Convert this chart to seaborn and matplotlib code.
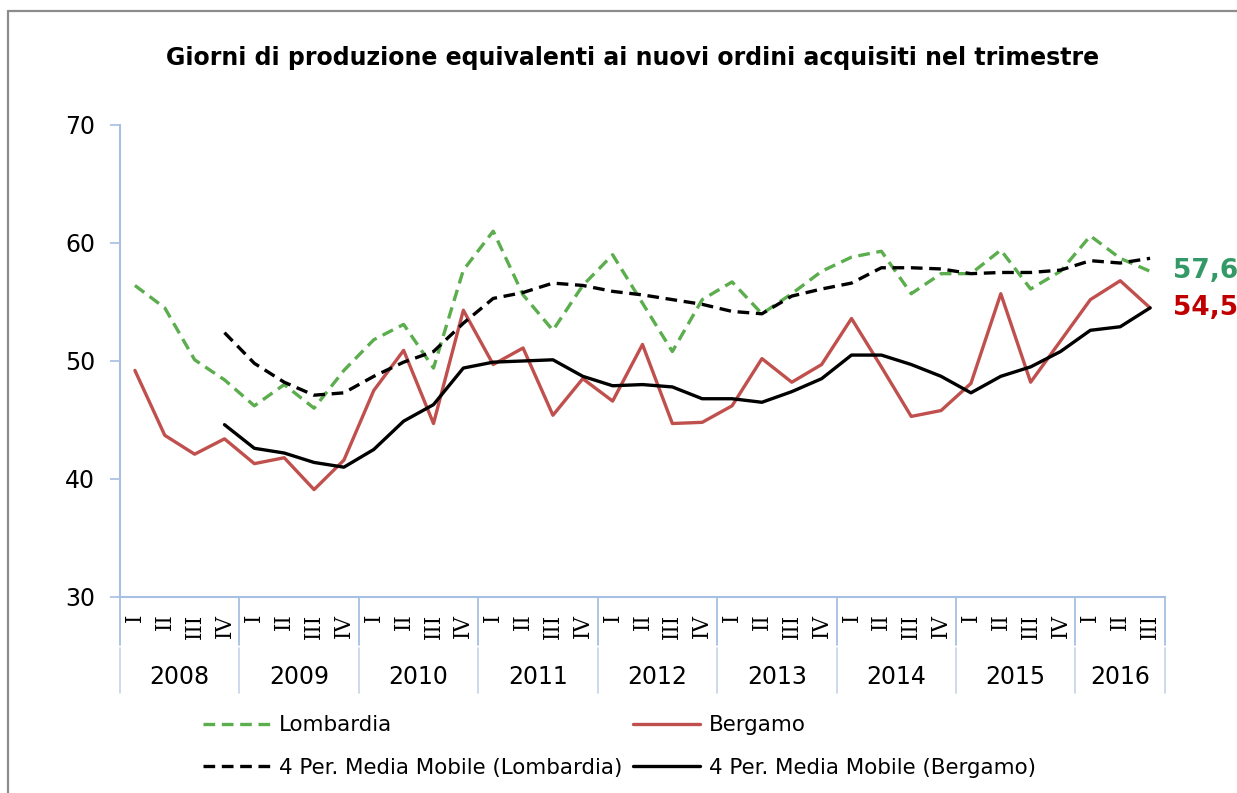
import numpy as np
import pandas as pd
import seaborn as sns
import matplotlib.pyplot as plt
import matplotlib.transforms as mtransforms
from matplotlib.lines import Line2D

# dati
anni = ["2008", "2009", "2010", "2011", "2012", "2013", "2014", "2015", "2016"]
trimestri = ["I", "II", "III", "IV"] * 8 + ["I", "II", "III"]

lombardia = [56.4, 54.5, 50.1, 48.4, 46.2, 48.0, 46.0, 49.2, 51.8, 53.1,
             49.4, 57.7, 61.0, 55.6, 52.6, 56.4, 59.0, 54.9, 50.8, 55.2,
             56.7, 54.0, 55.7, 57.6, 58.8, 59.3, 55.7, 57.4, 57.4, 59.4,
             56.1, 57.6, 60.6, 58.7, 57.6]
bergamo = [49.2, 43.7, 42.1, 43.4, 41.3, 41.8, 39.1, 41.6, 47.5, 50.9,
           44.7, 54.3, 49.7, 51.1, 45.4, 48.5, 46.6, 51.4, 44.7, 44.8,
           46.2, 50.2, 48.2, 49.7, 53.6, 49.5, 45.3, 45.8, 48.1, 55.7,
           48.2, 51.7, 55.2, 56.8, 54.5]
mm_lombardia = [np.nan, np.nan, np.nan,
                52.4, 49.8, 48.2, 47.1, 47.3, 48.7, 49.9, 50.8, 53.2, 55.3,
                55.8, 56.6, 56.4, 55.9, 55.6, 55.2, 54.8, 54.2, 54.0, 55.5,
                56.1, 56.6, 57.9, 57.9, 57.8, 57.4, 57.5, 57.5, 57.7, 58.5,
                58.3, 58.7]
mm_bergamo = [np.nan, np.nan, np.nan,
              44.6, 42.6, 42.2, 41.4, 41.0, 42.5, 44.9, 46.3, 49.4, 49.9,
              50.0, 50.1, 48.7, 47.9, 48.0, 47.8, 46.8, 46.8, 46.5, 47.4,
              48.5, 50.5, 50.5, 49.7, 48.7, 47.3, 48.7, 49.5, 50.8, 52.6,
              52.9, 54.5]

df = pd.DataFrame({"pos": range(len(trimestri)),
                   "Lombardia": lombardia, "Bergamo": bergamo,
                   "MM_L": mm_lombardia, "MM_B": mm_bergamo})

sns.set_style("white")
plt.rcParams['font.family'] = ['DejaVu Sans']
plt.rcParams['text.color'] = 'black'
plt.rcParams['xtick.color'] = 'black'
plt.rcParams['ytick.color'] = 'black'

axis_col = "#A7BFE3"
verde = "#5BAD4E"
rosso = "#C0504D"

fig = plt.figure(figsize=(12.37, 7.93), dpi=100)
ax = fig.add_axes([0.097, 0.2472, 0.8448, 0.5952])

lw = 2.4
sns.lineplot(data=df, x="pos", y="Lombardia", ax=ax, color=verde, lw=lw,
             label="Lombardia").lines[-1].set_dashes((3.5, 2))
sns.lineplot(data=df, x="pos", y="Bergamo", ax=ax, color=rosso, lw=lw, label="Bergamo")
sns.lineplot(data=df, x="pos", y="MM_L", ax=ax, color="black", lw=lw,
             label="4 Per. Media Mobile (Lombardia)").lines[-1].set_dashes((3.5, 2))
sns.lineplot(data=df, x="pos", y="MM_B", ax=ax, color="black", lw=lw,
             label="4 Per. Media Mobile (Bergamo)")

n = len(trimestri)
ax.set_xlim(-0.5, n - 0.5)
ax.set_ylim(30, 70)
ax.set_yticks([30, 40, 50, 60, 70])
ax.set_xlabel("")
ax.set_ylabel("")
ax.set_xticks(range(n))
ax.set_xticklabels(trimestri, rotation=90, family="DejaVu Serif", fontsize=15.5)
ax.tick_params(axis="x", length=0, pad=12)
ax.tick_params(axis="y", length=7, width=1.2, color=axis_col, labelcolor="black",
               labelsize=17, pad=11, left=True)

for s in ["top", "right"]:
    ax.spines[s].set_visible(False)
for s in ["left", "bottom"]:
    ax.spines[s].set_color(axis_col)
    ax.spines[s].set_linewidth(1.5)

# separatori anni e etichette anni
trans = mtransforms.blended_transform_factory(ax.transData, ax.transAxes)
confini = [-0.5]
start = 0
for a in anni:
    cnt = 4 if a != "2016" else 3
    end = start + cnt
    confini.append(end - 0.5)
    ax.text((start + end - 1) / 2, -0.169, a, transform=trans, ha="center",
            va="center", fontsize=17)
    start = end
for b in confini:
    ax.plot([b, b], [0, -0.102], transform=trans, color=axis_col, lw=1.3, clip_on=False)
    ax.plot([b, b], [-0.108, -0.203], transform=trans, color="#C9D8EE", lw=1.3, clip_on=False)

# valori finali
ax.annotate(f"{lombardia[-1]:.1f}".replace(".", ","), xy=(n - 1, lombardia[-1]),
            xytext=(23, 0), textcoords="offset pixels", ha="left", va="center",
            fontsize=19, fontweight="bold", color="#339966", annotation_clip=False)
ax.annotate(f"{bergamo[-1]:.1f}".replace(".", ","), xy=(n - 1, bergamo[-1]),
            xytext=(23, 0), textcoords="offset pixels", ha="left", va="center",
            fontsize=19, fontweight="bold", color="#C00000", annotation_clip=False)

fig.text(0.5117, 0.927, "Giorni di produzione equivalenti ai nuovi ordini acquisiti nel trimestre",
         ha="center", va="center", fontsize=17, fontweight="bold")

h, l = ax.get_legend_handles_labels()
ax.get_legend().remove()
order = [0, 2, 1, 3]
fig.legend([h[i] for i in order], [l[i] for i in order], ncol=2,
           loc="upper left", bbox_to_anchor=(0.164, 0.098), frameon=False,
           fontsize=15.4, handlelength=3.15, handletextpad=0.4, columnspacing=0.5,
           labelspacing=1.05, borderpad=0, borderaxespad=0)

# bordo dell'area del grafico (solo sinistra e alto visibili)
bx, by = 8 / 1237, 1 - 11 / 793
fig.add_artist(Line2D([bx, bx], [0, by], transform=fig.transFigure, color="#8C8C8C", lw=1.6))
fig.add_artist(Line2D([bx, 1], [by, by], transform=fig.transFigure, color="#8C8C8C", lw=1.6))

fig.savefig("out.png", dpi=100)
